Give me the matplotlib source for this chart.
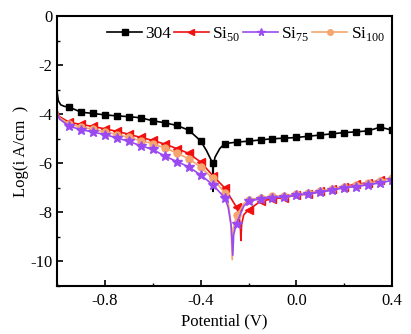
import numpy as np
import matplotlib
matplotlib.use('Agg')
import matplotlib.pyplot as plt
from matplotlib.ticker import MultipleLocator

plt.rcParams['font.family'] = ['Liberation Serif', 'DejaVu Serif']
plt.rcParams['mathtext.fontset'] = 'custom'
plt.rcParams['mathtext.rm'] = 'Liberation Serif'

# polarisation curves: potential (V) vs log current density
x_304 = [-1.0, -0.995, -0.985, -0.97, -0.95, -0.9, -0.85, -0.8, -0.75, -0.7, -0.65,
         -0.6, -0.55, -0.5, -0.45, -0.4, -0.375, -0.36, -0.35, -0.349, -0.347, -0.34,
         -0.32, -0.3, -0.25, -0.2, -0.15, -0.1, -0.05, 0.0, 0.05, 0.1, 0.15, 0.2,
         0.25, 0.3, 0.35, 0.4]
y_304 = [-3.1, -3.45, -3.62, -3.68, -3.71, -3.92, -3.97, -4.03, -4.07, -4.1, -4.15,
         -4.27, -4.35, -4.46, -4.65, -5.09, -5.5, -5.8, -6.0, -7.15, -6.1, -5.75,
         -5.4, -5.2, -5.14, -5.1, -5.05, -5.0, -4.98, -4.95, -4.9, -4.85, -4.8, -4.75,
         -4.72, -4.68, -4.53, -4.65]

x_si50 = [-1.0, -0.99, -0.95, -0.9, -0.85, -0.8, -0.75, -0.7, -0.65, -0.6, -0.55,
          -0.5, -0.45, -0.4, -0.35, -0.3, -0.25, -0.24, -0.234, -0.232, -0.229,
          -0.22, -0.2, -0.15, -0.1, -0.05, 0.0, 0.05, 0.1, 0.15, 0.2, 0.25, 0.3,
          0.35, 0.4]
y_si50 = [-3.85, -4.1, -4.33, -4.42, -4.5, -4.6, -4.7, -4.82, -4.95, -5.07, -5.22,
          -5.4, -5.6, -5.95, -6.5, -7.0, -7.8, -8.1, -8.6, -9.15, -8.5,
          -8.1, -7.9, -7.55, -7.45, -7.4, -7.3, -7.25, -7.15, -7.05, -6.95, -6.85,
          -6.8, -6.7, -6.6]

x_si75 = [-1.0, -0.99, -0.95, -0.9, -0.85, -0.8, -0.75, -0.7, -0.65, -0.6, -0.55,
          -0.5, -0.45, -0.4, -0.35, -0.3, -0.285, -0.272, -0.266, -0.262, -0.25,
          -0.235, -0.22, -0.2, -0.15, -0.1, -0.05, 0.0, 0.05, 0.1, 0.15, 0.2, 0.25,
          0.3, 0.35, 0.4]
y_si75 = [-3.95, -4.2, -4.49, -4.63, -4.73, -4.83, -4.97, -5.11, -5.29, -5.44, -5.71,
          -5.93, -6.15, -6.48, -6.87, -7.4, -7.8, -8.6, -9.75, -8.9, -8.46,
          -8.1, -7.75, -7.55, -7.45, -7.4, -7.38, -7.3, -7.25, -7.18, -7.1, -7.0,
          -6.95, -6.88, -6.8, -6.7]

x_si100 = [-1.0, -0.99, -0.95, -0.9, -0.85, -0.8, -0.75, -0.7, -0.65, -0.6, -0.55,
           -0.5, -0.45, -0.4, -0.35, -0.3, -0.285, -0.274, -0.268, -0.264, -0.25,
           -0.235, -0.22, -0.2, -0.15, -0.1, -0.05, 0.0, 0.05, 0.1, 0.15, 0.2, 0.25,
           0.3, 0.35, 0.4]
y_si100 = [-3.9, -4.15, -4.4, -4.52, -4.62, -4.72, -4.83, -4.95, -5.08, -5.2, -5.38,
           -5.58, -5.82, -6.15, -6.62, -7.2, -7.6, -8.4, -9.93, -8.7, -8.1,
           -7.9, -7.65, -7.5, -7.4, -7.35, -7.32, -7.27, -7.2, -7.12, -7.05, -6.97,
           -6.9, -6.82, -6.72, -6.62]

labels = ['304', 'Si$_{50}$', 'Si$_{75}$', 'Si$_{100}$']
colors = ['black', '#F01010', '#9A4AF0', '#F4A66E']
markers = ['s', '<', '*', 'o']
msizes = [5, 6, 7, 5]


def marker_idx(xs):
    # put a symbol on every 0.05 V step, skipping the first point
    xs = np.asarray(xs)
    k = xs * 20
    return [i for i in range(1, len(xs)) if np.isclose(k[i], np.round(k[i]), atol=1e-6)]


fig = plt.figure(figsize=(4.11, 3.34), dpi=100)
ax = fig.add_axes([0.139, 0.144, 0.815, 0.808])

series = [(x_304, y_304), (x_si50, y_si50), (x_si75, y_si75), (x_si100, y_si100)]
handles = [None] * 4
for i in [0, 1, 3, 2]:
    xs, ys = series[i]
    h, = ax.plot(xs, ys, color=colors[i], marker=markers[i], ms=msizes[i], lw=1.2,
                 markevery=marker_idx(xs), label=labels[i])
    handles[i] = h

ax.set_xlim(-1.0, 0.4)
ax.set_ylim(-11, 0)
ax.xaxis.set_minor_locator(MultipleLocator(0.2))
ax.yaxis.set_minor_locator(MultipleLocator(1))
ax.set_xticks([-0.8, -0.4, 0.0, 0.4])
ax.set_xticklabels(['-0.8', '-0.4', '0.0', '0.4'])
ax.set_yticks([0, -2, -4, -6, -8, -10])
ax.set_yticklabels(['0', '-2', '-4', '-6', '-8', '-10'])
ax.tick_params(which='both', direction='in', top=False, right=False, labelsize=12)
ax.tick_params(which='major', length=4, width=1.2)
ax.tick_params(which='minor', length=2.5, width=1.0)
ax.tick_params(axis='x', which='major', pad=5)
for s in ax.spines.values():
    s.set_linewidth(1.5)

ax.set_xlabel('Potential (V)', fontsize=12, labelpad=3)
ax.set_ylabel('Log(i A/cm  )', fontsize=12, labelpad=1)

ax.legend(handles=handles, ncol=4, frameon=False, loc='upper right',
          bbox_to_anchor=(1.005, 1.0), fontsize=12.5, handlelength=2.0,
          handletextpad=0.2, columnspacing=0.15, markerscale=0.8,
          borderaxespad=0.1)

fig.savefig('out.png', dpi=100)
